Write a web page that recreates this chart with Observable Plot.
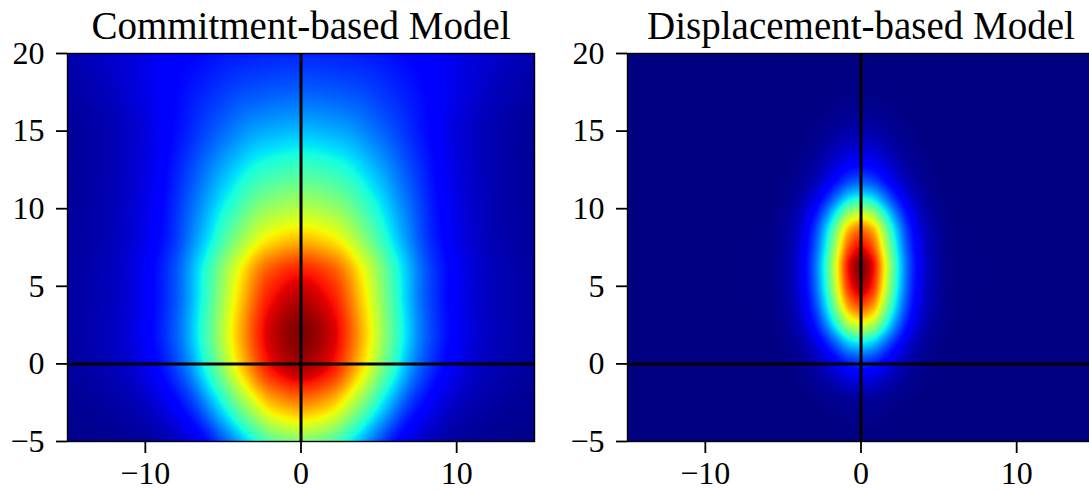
<!DOCTYPE html>
<html>
<head>
<meta charset="utf-8">
<script src="https://cdn.jsdelivr.net/npm/d3@7"></script>
<script src="https://cdn.jsdelivr.net/npm/@observablehq/plot@0.6"></script>
<style>
  html, body { margin: 0; padding: 0; background: #fff; }
  #wrap { position: relative; width: 1089px; height: 492px; overflow: hidden; }
  #wrap > div { position: absolute; top: 0; width: 560px; height: 492px; }
  #wrap svg { max-width: none !important; display: block; }
  #left { left: 0; }
  #right { left: 560px; }
</style>
</head>
<body>
<div id="wrap"><div id="left"></div><div id="right"></div></div>
<script>
// ---------------- data ----------------
const titles = ["Commitment-based Model", "Displacement-based Model"];
const xTicks = [-10, 0, 10];
const yTicks = [-5, 0, 5, 10, 15, 20];

// Commitment-based model
// intensity along the centre line x = 0, and relative horizontal spread, at these heights
const commitY = [-5, -2.5, 0, 2, 4, 6, 8, 10, 12.5, 15, 17.5, 20];
const commitCentre = [0.50, 0.77, 0.97, 1.0, 0.96, 0.88, 0.71, 0.57, 0.43, 0.31, 0.22, 0.16];
const commitWidth = [0.8, 0.9, 0.97, 1.0, 1.0, 1.03, 1.06, 1.12, 1.2, 1.32, 1.6, 1.95];
// horizontal profile through the peak (relative to the centre value)
const commitShapeX = [0, 2, 4, 6, 8, 10, 12, 15, 20, 30];
const commitShape = [1, 0.93, 0.71, 0.44, 0.22, 0.11, 0.058, 0.03, 0.012, 0];

// Displacement-based model: horizontal and vertical intensity profiles through the peak
const dispX = [0, 0.75, 1.5, 2.25, 3, 3.75, 4.5, 6, 15];
const dispXProfile = [1, 0.91, 0.66, 0.41, 0.22, 0.105, 0.045, 0.006, 0];
const dispY = [-5, -2.5, -1.2, 0, 1.35, 2.6, 4, 5.2, 6.3, 7.5, 8.6, 9.6, 10.8, 11.9, 13.3, 15, 17, 20];
const dispYProfile = [0, 0.02, 0.075, 0.165, 0.36, 0.63, 0.86, 0.97, 1.0, 0.91, 0.80, 0.61, 0.36, 0.2, 0.1, 0.04, 0.01, 0];

// ---------------- helpers ----------------
function pchip(xs, ys) {
  const n = xs.length, h = [], d = [], m = new Array(n);
  for (let i = 0; i < n - 1; i++) { h[i] = xs[i + 1] - xs[i]; d[i] = (ys[i + 1] - ys[i]) / h[i]; }
  m[0] = d[0]; m[n - 1] = d[n - 2];
  for (let i = 1; i < n - 1; i++) {
    if (d[i - 1] * d[i] <= 0) m[i] = 0;
    else { const w1 = 2 * h[i] + h[i - 1], w2 = h[i] + 2 * h[i - 1]; m[i] = (w1 + w2) / (w1 / d[i - 1] + w2 / d[i]); }
  }
  return x => {
    if (x <= xs[0]) return ys[0];
    if (x >= xs[n - 1]) return ys[n - 1];
    let i = 0; while (x > xs[i + 1]) i++;
    const t = (x - xs[i]) / h[i], t2 = t * t, t3 = t2 * t;
    return (2 * t3 - 3 * t2 + 1) * ys[i] + (t3 - 2 * t2 + t) * h[i] * m[i] + (-2 * t3 + 3 * t2) * ys[i + 1] + (t3 - t2) * h[i] * m[i + 1];
  };
}
const mirrorX = xs => xs.slice(1).reverse().map(v => -v).concat(xs);
const mirrorV = vs => vs.slice(1).reverse().concat(vs);

const W = 467, H = 388;
const X0 = -15, X1 = 15, Y0 = -5, Y1 = 20;
const px = j => X0 + (j + 0.5) * (X1 - X0) / W;
const py = i => Y1 - (i + 0.5) * (Y1 - Y0) / H;

function commitField() {
  const shape = pchip(mirrorX(commitShapeX), mirrorV(commitShape));
  const centre = pchip(commitY, commitCentre);
  const width = pchip(commitY, commitWidth);
  const out = new Array(W * H);
  for (let i = 0; i < H; i++) {
    const y = py(i), c = centre(y), w = width(y);
    for (let j = 0; j < W; j++) out[i * W + j] = c * shape(px(j) / w);
  }
  return out;
}
function dispField() {
  const fx = pchip(mirrorX(dispX), mirrorV(dispXProfile));
  const fy = pchip(dispY, dispYProfile);
  const xs = d3.range(W).map(j => fx(px(j)));
  const ys = d3.range(H).map(i => fy(py(i)));
  const out = new Array(W * H);
  for (let i = 0; i < H; i++) for (let j = 0; j < W; j++) out[i * W + j] = xs[j] * ys[i];
  return out;
}

function jet(t) {
  t = Math.max(0, Math.min(1, t));
  const seg = pts => {
    for (let k = 1; k < pts.length; k++) {
      if (t <= pts[k][0]) { const [a0, b0] = pts[k - 1], [a1, b1] = pts[k]; return b0 + (b1 - b0) * (t - a0) / (a1 - a0); }
    }
    return pts[pts.length - 1][1];
  };
  const r = seg([[0, 0], [0.35, 0], [0.66, 1], [0.89, 1], [1, 0.5]]);
  const g = seg([[0, 0], [0.125, 0], [0.375, 1], [0.64, 1], [0.91, 0], [1, 0]]);
  const b = seg([[0, 0.5], [0.11, 1], [0.34, 1], [0.65, 0], [1, 0]]);
  return `rgb(${Math.round(r * 255)},${Math.round(g * 255)},${Math.round(b * 255)})`;
}

const fmt = d => (d < 0 ? "\u2212" + Math.abs(d) : String(d));
const serif = "'Liberation Serif', 'Times New Roman', serif";

function panel(values, title) {
  return Plot.plot({
    width: 560, height: 492,
    marginLeft: 67, marginRight: 26, marginTop: 53, marginBottom: 51,
    x: {domain: [X0, X1]},
    y: {domain: [Y0, Y1]},
    color: {type: "linear", domain: [0, 1], interpolate: jet, clamp: true},
    style: {fontFamily: serif, color: "black", background: "white"},
    marks: [
      Plot.raster(values, {width: W, height: H, x1: X0, x2: X1, y1: Y1, y2: Y0, fill: d => d}),
      Plot.ruleX([0], {stroke: "black", strokeWidth: 3}),
      Plot.ruleY([0], {stroke: "black", strokeWidth: 3}),
      Plot.frame({stroke: "black", strokeWidth: 1.4}),
      Plot.axisX({ticks: xTicks, tickFormat: fmt, tickSize: 12, tickPadding: 8, fontSize: 32, strokeWidth: 1.8, label: null}),
      Plot.axisY({ticks: yTicks, tickFormat: fmt, tickSize: 11, tickPadding: 12, fontSize: 32, strokeWidth: 1.8, label: null}),
      Plot.text([title], {frameAnchor: "top", dy: -15, lineAnchor: "bottom", fontSize: 39, fill: "black"})
    ]
  });
}

document.getElementById("left").appendChild(panel(commitField(), titles[0]));
document.getElementById("right").appendChild(panel(dispField(), titles[1]));
</script>
</body>
</html>
